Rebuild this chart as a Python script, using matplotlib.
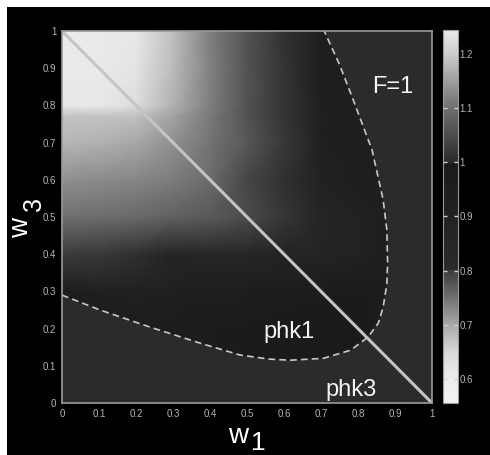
import numpy as np
import matplotlib
matplotlib.use("Agg")
import matplotlib.pyplot as plt
from matplotlib.colors import LinearSegmentedColormap
from matplotlib.patches import Polygon, Rectangle

w1_grid = [0.0, 0.1, 0.2, 0.3, 0.4, 0.5, 0.6, 0.7, 0.8, 0.9, 1.0]
w3_grid = [0.0, 0.1, 0.2, 0.3, 0.4, 0.5, 0.6, 0.7, 0.77, 0.8, 0.9, 1.0]

# rows follow w3_grid, columns follow w1_grid
field = [
    [0.97, 0.97, 0.975, 0.975, 0.975, 0.99, 0.999, 0.999, 0.99, 0.95, 0.95],
    [0.97, 0.97, 0.975, 0.975, 0.975, 0.99, 0.999, 0.999, 0.99, 0.95, 0.95],
    [0.97, 0.97, 0.975, 0.975, 0.975, 0.99, 0.999, 0.999, 0.99, 0.95, 0.95],
    [0.97, 0.92, 0.91, 0.93, 0.95, 0.95, 0.96, 0.975, 0.99, 0.95, 0.95],
    [1.026, 1.02, 1.009, 0.87, 0.84, 0.86, 0.87, 0.88, 0.90, 0.95, 0.95],
    [1.10, 1.097, 1.093, 1.08, 1.068, 1.05, 1.016, 0.86, 0.90, 0.95, 0.95],
    [1.136, 1.13, 1.125, 1.114, 1.095, 1.04, 1.01, 0.90, 0.95, 0.95, 0.95],
    [1.176, 1.17, 1.16, 1.135, 1.105, 1.065, 1.02, 0.92, 0.95, 0.95, 0.95],
    [1.19, 1.19, 1.185, 1.155, 1.11, 1.06, 1.015, 0.93, 0.95, 0.95, 0.95],
    [1.24, 1.24, 1.225, 1.17, 1.115, 1.06, 1.015, 0.93, 0.95, 0.95, 0.95],
    [1.245, 1.245, 1.235, 1.18, 1.12, 1.06, 1.015, 0.95, 0.95, 0.95, 0.95],
    [1.245, 1.245, 1.24, 1.185, 1.115, 1.06, 1.01, 0.95, 0.95, 0.95, 0.95],
]

# dashed F=1 boundary
bound_w1 = [0.0, 0.103, 0.238, 0.373, 0.481, 0.56, 0.616, 0.706, 0.78, 0.827,
            0.855, 0.868, 0.878, 0.88, 0.878, 0.868, 0.838, 0.787, 0.75, 0.711, 0.709]
bound_w3 = [0.29, 0.25, 0.204, 0.161, 0.129, 0.118, 0.115, 0.12, 0.142, 0.177,
            0.215, 0.258, 0.32, 0.376, 0.465, 0.546, 0.68, 0.815, 0.91, 0.995, 1.0]

# phk1/phk3 separator
diag_w1 = [0.0, 1.0]
diag_w3 = [1.0, 0.0]

ticks = [0, 0.1, 0.2, 0.3, 0.4, 0.5, 0.6, 0.7, 0.8, 0.9, 1]
tick_labels = ["0", "0.1", "0.2", "0.3", "0.4", "0.5", "0.6", "0.7", "0.8", "0.9", "1"]
cb_ticks = [0.6, 0.7, 0.8, 0.9, 1.0, 1.1, 1.2]
cb_labels = ["0.6", "0.7", "0.8", "0.9", "1", "1.1", "1.2"]

vmin, vmax = 0.556, 1.244
nodes = [
    (0.556, "#f2f2f2"), (0.6, "#ececec"), (0.65, "#d8d8d8"), (0.7, "#a8a8a8"),
    (0.75, "#707070"), (0.799, "#3c3c3c"), (0.8, "#2b2b2b"), (0.85, "#262626"),
    (0.9, "#222222"), (0.95, "#1e1e1e"), (0.999, "#1a1a1a"), (1.0, "#2a2a2a"),
    (1.1, "#6e6e6e"), (1.2, "#cccccc"), (1.244, "#eaeaea"),
]
cmap = LinearSegmentedColormap.from_list(
    "split_gray", [((v - vmin) / (vmax - vmin), c) for v, c in nodes], N=256)

font = ["Liberation Sans Narrow", "Liberation Sans", "DejaVu Sans"]
plt.rcParams["font.family"] = font
label_grey = "#b4b4b4"

fig = plt.figure(figsize=(4.9, 4.55), dpi=100, facecolor="white")
fig.patches.append(Rectangle((7 / 490, 0), 1, 448 / 455, transform=fig.transFigure,
                             facecolor="black", edgecolor="none", zorder=-1))

ax = fig.add_axes([62 / 490, 52 / 455, 370 / 490, 372 / 455])
ax.set_facecolor("#2b2b2b")

mesh = ax.pcolormesh(w1_grid, w3_grid, np.array(field), shading="gouraud",
                     cmap=cmap, vmin=vmin, vmax=vmax)
clip = Polygon(list(zip(bound_w1, bound_w3)) + [(0.0, 1.0)], closed=True,
               transform=ax.transData)
mesh.set_clip_path(clip)

ax.plot(bound_w1, bound_w3, color="#c8c8c8", lw=1.2, dashes=(4, 2.5))
ax.plot(diag_w1, diag_w3, color="#c4c4c4", lw=2.2, solid_capstyle="butt")

ax.set_xlim(0, 1)
ax.set_ylim(0, 1)
ax.set_xticks(ticks)
ax.set_xticklabels(tick_labels)
ax.set_yticks(ticks)
ax.set_yticklabels(tick_labels)
ax.tick_params(length=0, labelsize=7, labelcolor=label_grey, pad=4)
for s in ax.spines.values():
    s.set_color("#9a9a9a")
    s.set_linewidth(1.2)

txt = dict(color="#f4f4f4", fontsize=17)
ax.text(0.895, 0.85, "F=1", ha="center", va="center", **txt)
ax.text(0.613, 0.175, "phk1", ha="center", va="baseline", **txt)
ax.text(0.78, 0.02, "phk3", ha="center", va="baseline", **txt)

# axis labels: letter plus a large, lowered index
lab = dict(color="white", transform=ax.transAxes)
ax.text(0.477, -0.1075, "w", ha="center", va="baseline", fontsize=20, **lab)
ax.text(0.53, -0.127, "1", ha="center", va="baseline", fontsize=19, **lab)
ax.text(-0.111, 0.47, "w", ha="center", va="center", rotation=90, fontsize=20, **lab)
ax.text(-0.075, 0.535, "3", ha="center", va="center", rotation=90, fontsize=18, **lab)

cax = fig.add_axes([443 / 490, 52 / 455, 15 / 490, 373 / 455])
cb = fig.colorbar(mesh, cax=cax)
cb.set_ticks(cb_ticks)
cb.set_ticklabels(cb_labels)
cb.outline.set_edgecolor("#9a9a9a")
cax.tick_params(direction="in", left=True, right=True, length=3, width=1,
                color="#d0d0d0", labelsize=7, labelcolor=label_grey, pad=1)

fig.savefig("out.png", dpi=100, facecolor=fig.get_facecolor())
